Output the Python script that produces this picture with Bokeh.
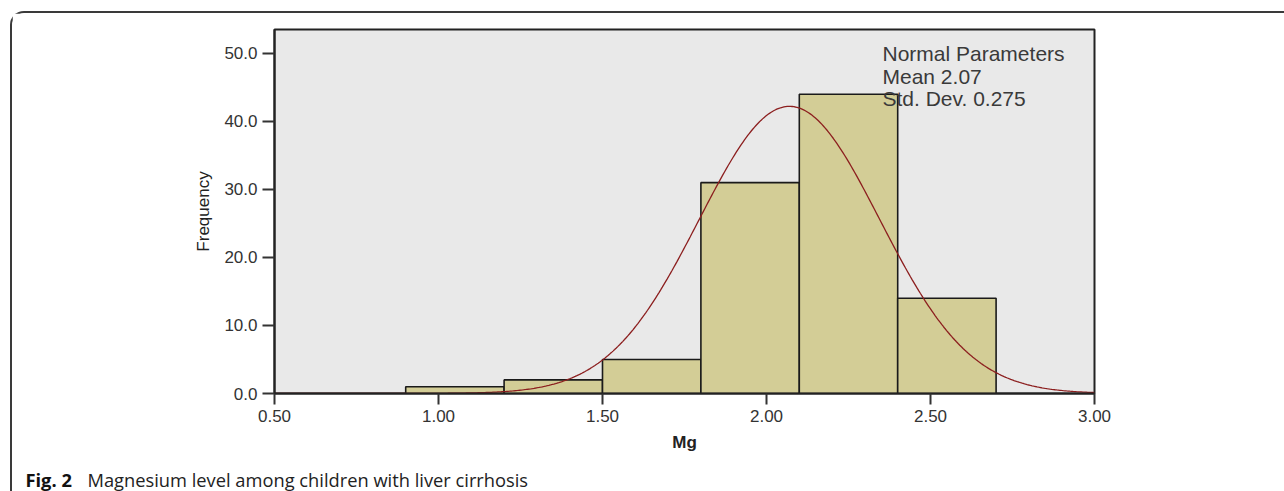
import numpy as np
from bokeh.plotting import figure
from bokeh.layouts import column
from bokeh.models import FixedTicker, PrintfTickFormatter, Label, Range1d
from bokeh.embed import file_html
from bokeh.resources import INLINE

# ---------------- data ----------------
bin_edges = [0.9, 1.2, 1.5, 1.8, 2.1, 2.4, 2.7]
frequencies = [1, 2, 5, 31, 44, 14]
mean_mg = 2.07
std_mg = 0.275
x_ticks = [0.5, 1.0, 1.5, 2.0, 2.5, 3.0]
y_ticks = [0, 10, 20, 30, 40, 50]
param_lines = ["Normal Parameters", "Mean 2.07", "Std. Dev. 0.275"]
caption_bold = "Fig. 2"
caption_text = "Magnesium level among children with liver cirrhosis"

# ---------------- layout (pixels, page coordinates) ----------------
PAGE_W, PAGE_H = 1284, 491
BOX_L, BOX_T, BOX_BW = 10, 11, 2          # outer rounded frame
OX, OY = BOX_L + BOX_BW, BOX_T + BOX_BW   # content origin
FL, FR, FT, FB = 274, 1094, 29, 394       # plot frame in page coords
W = 1272
H_MAIN = 441
H_CAP = 37
X0, X1 = 0.5, 3.0
Y0, Y1 = 0.0, 53.52


def xd(px):
    return X0 + (px - FL) * (X1 - X0) / (FR - FL)


def yd(py):
    return Y0 + (FB - py) * (Y1 - Y0) / (FB - FT)


p = figure(width=W, height=H_MAIN, x_range=Range1d(X0, X1), y_range=Range1d(Y0, Y1),
           min_border_left=FL - OX, min_border_right=W - (FR - OX), min_border_top=FT - OY,
           min_border_bottom=H_MAIN - (FB - OY), output_backend="svg", toolbar_location=None)
p.frame_align = False

p.background_fill_color = "#e9e9e9"
p.border_fill_color = "white"
p.outline_line_color = "#222222"
p.outline_line_width = 2
p.grid.visible = False

# bars
p.quad(left=bin_edges[:-1], right=bin_edges[1:], bottom=0, top=frequencies,
       fill_color="#d3cd96", line_color="#1a1a1a", line_width=1.6)

# normal curve from the stated parameters
n_total = sum(frequencies)
bw = bin_edges[1] - bin_edges[0]
xs = np.linspace(X0, X1, 500)
ys = n_total * bw / (std_mg * np.sqrt(2 * np.pi)) * np.exp(-0.5 * ((xs - mean_mg) / std_mg) ** 2)
p.line(xs, ys, line_color="#8c1f1f", line_width=1.3)

# axes
p.xaxis.ticker = FixedTicker(ticks=x_ticks)
p.xaxis.formatter = PrintfTickFormatter(format="%.2f")
p.yaxis.ticker = FixedTicker(ticks=y_ticks)
p.yaxis.formatter = PrintfTickFormatter(format="%.1f")
for ax in (p.xaxis, p.yaxis):
    ax.axis_line_color = "#222222"
    ax.axis_line_width = 2
    ax.major_tick_line_color = "#333333"
    ax.major_tick_line_width = 2
    ax.major_tick_in = 0
    ax.minor_tick_in = 0
    ax.minor_tick_out = 0
    ax.major_label_text_font = "Liberation Sans"
    ax.major_label_text_font_size = "17px"
    ax.major_label_text_color = "#333333"
    ax.axis_label_text_font = "Liberation Sans"
    ax.axis_label_text_font_size = "17px"
    ax.axis_label_text_color = "#222222"
p.xaxis.major_tick_out = 11
p.yaxis.major_tick_out = 12
p.xaxis.major_label_standoff = 5
p.yaxis.major_label_standoff = 5
p.xaxis.axis_label = "Mg"
p.xaxis.axis_label_text_font_style = "bold"
p.xaxis.axis_label_standoff = 8
p.yaxis.axis_label = "Frequency"
p.yaxis.axis_label_text_font_style = "normal"
p.yaxis.axis_label_standoff = 8

# normal parameters text
for txt, cy in zip(param_lines, [53, 76, 98]):
    p.add_layout(Label(x=xd(882), y=yd(cy), text=txt, text_baseline="middle",
                       text_font="Liberation Sans", text_font_size="21px",
                       text_color="#3a3a3a"))

# caption strip
cap = figure(width=W, height=H_CAP, x_range=Range1d(0, W), y_range=Range1d(H_CAP, 0),
             x_axis_type=None, y_axis_type=None, min_border=0,
             output_backend="svg", toolbar_location=None)
cap.frame_align = False
cap.grid.visible = False
cap.outline_line_color = None
cap.background_fill_color = "white"
cap.border_fill_color = "white"
cap_mid = 479 - (OY + H_MAIN)
cap.add_layout(Label(x=25 - OX, y=cap_mid, text=caption_bold, text_baseline="middle",
                     text_font="Open Sans", text_font_style="bold", text_font_size="18.3px",
                     text_color="#111111"))
cap.add_layout(Label(x=87 - OX, y=cap_mid, text=caption_text, text_baseline="middle",
                     text_font="Open Sans", text_font_size="18.3px", text_color="#222222"))

layout = column(p, cap, spacing=0, margin=(BOX_T, 0, 0, BOX_L),
                styles={"border-top": f"{BOX_BW}px solid #3a3a3a",
                        "border-left": f"{BOX_BW}px solid #3a3a3a",
                        "border-top-left-radius": "14px"})

open("out.html", "w").write(file_html(layout, INLINE))
